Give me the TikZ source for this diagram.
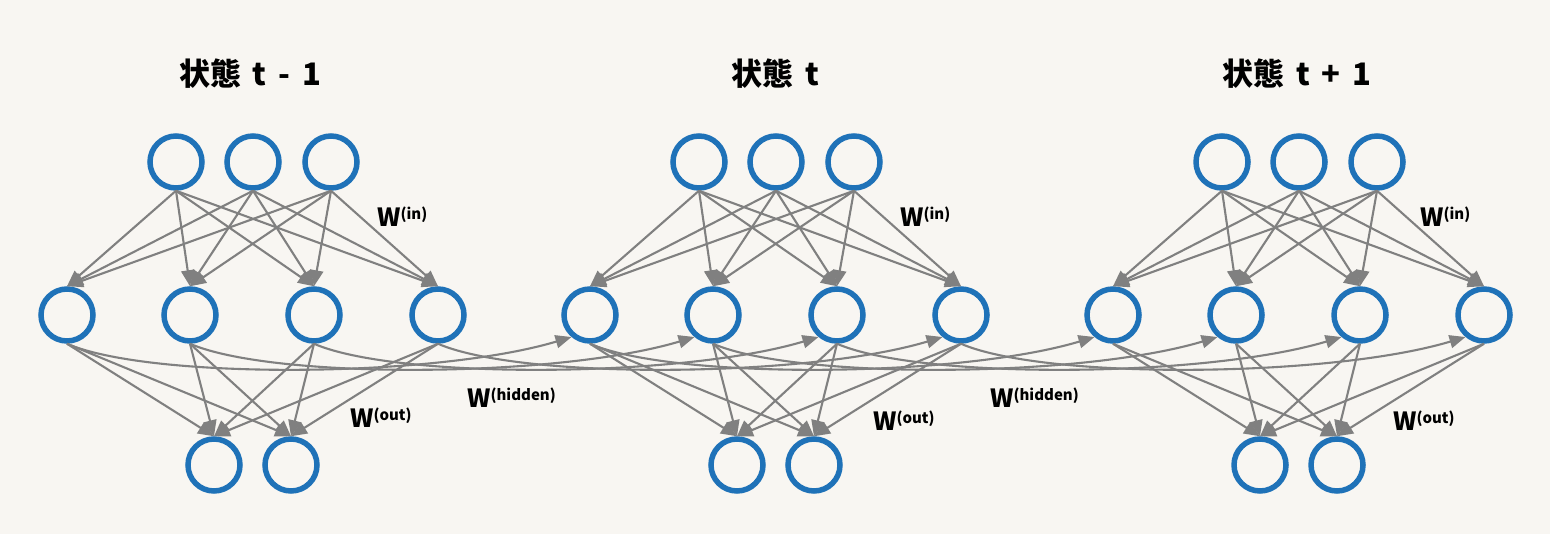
\documentclass[tikz,border=0pt]{standalone}
\usepackage{fontspec}
\setmainfont{Noto Sans CJK JP}
\usetikzlibrary{arrows.meta}
\definecolor{bgcol}{HTML}{F8F6F2}
\definecolor{nblue}{HTML}{1F72B8}
\definecolor{egray}{HTML}{808080}
\begin{document}
\begin{tikzpicture}[x=1pt,y=-1pt,
  neuron/.style={circle,draw=nblue,line width=5.5pt,minimum size=52pt,inner sep=0pt,fill=bgcol},
  arr/.style={draw=egray,line width=2.1pt,-{Triangle[length=16pt,width=13pt]}},
  title/.style={font=\fontsize{31}{33}\selectfont\bfseries,anchor=base,inner sep=0pt},
  wlab/.style={anchor=base west,inner sep=0pt}]
\fill[bgcol] (0,0) rectangle (1550,534);
\useasboundingbox (0,0) rectangle (1550,534);
\newcommand{\wl}[1]{{\fontsize{25}{25}\selectfont\bfseries W}{\fontsize{15}{15}\selectfont\bfseries\raisebox{7pt}{(#1)}}}
\newcommand{\tsp}{\hspace{0.38em}}
% titles
\node[title] (title1) at (250,86) {状態\tsp t\tsp -\tsp 1};
\node[title] (title2) at (775,86) {状態\tsp t};
\node[title] (title3) at (1297,86) {状態\tsp t\tsp +\tsp 1};
% nodes
\foreach \b/\dx in {1/0,2/523,3/1046} {
  \foreach \i/\x in {1/176,2/253,3/331} \node[neuron] (t\b\i) at (\x+\dx,162) {};
  \foreach \i/\x in {1/67,2/190,3/314,4/438} \node[neuron] (h\b\i) at (\x+\dx,315) {};
  \foreach \i/\x in {1/214,2/291} \node[neuron] (o\b\i) at (\x+\dx,465) {};
}
% edges
\foreach \b in {1,2,3} {
  \foreach \i in {1,2,3} \foreach \j in {1,2,3,4} \draw[arr] (t\b\i.south) -- (h\b\j.north);
  \foreach \i in {1,2,3,4} \foreach \j in {1,2} \draw[arr] (h\b\i.south) -- (o\b\j.north);
}
\foreach \b/\c in {1/2,2/3} \foreach \i in {1,2,3,4}
  \draw[arr] (h\b\i.south) .. controls +(83,36) and +(-137,41) .. (h\c\i.230);
% labels
\node[wlab] (win1) at (377,227) {\wl{in}};
\node[wlab] (win2) at (900,227) {\wl{in}};
\node[wlab] (win3) at (1420,227) {\wl{in}};
\node[wlab] (wh1) at (467,407) {\wl{hidden}};
\node[wlab] (wh2) at (990,407) {\wl{hidden}};
\node[wlab] (wo1) at (350,428) {\wl{out}};
\node[wlab] (wo2) at (873,430) {\wl{out}};
\node[wlab] (wo3) at (1393,430) {\wl{out}};
\end{tikzpicture}
\end{document}
